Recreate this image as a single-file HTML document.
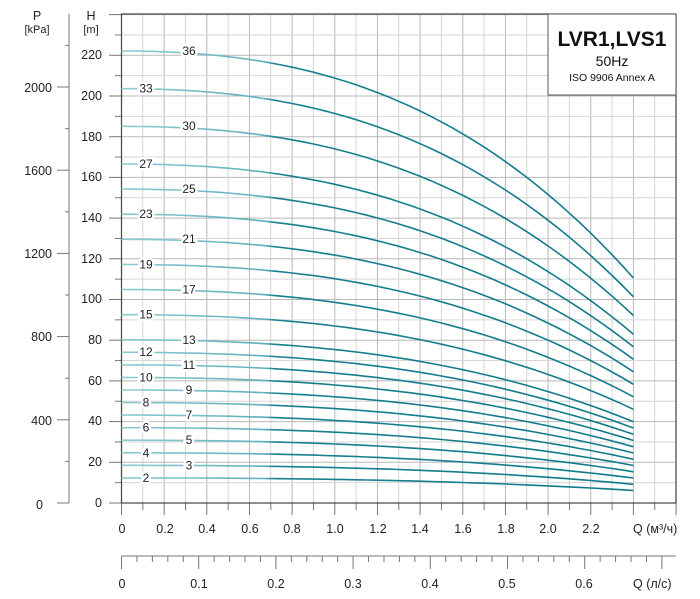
<!DOCTYPE html>
<html><head><meta charset="utf-8"><style>
html,body{margin:0;padding:0;background:#fff}
svg{display:block;font-family:"Liberation Sans",sans-serif}
</style></head><body>
<svg id="s" width="700" height="599" viewBox="0 0 700 599">
<defs><linearGradient id="g" gradientUnits="userSpaceOnUse" x1="121" y1="0" x2="634" y2="0">
<stop offset="0" stop-color="#8fcbd4"/><stop offset="0.28" stop-color="#5fb0bd"/><stop offset="0.3" stop-color="#17808f"/><stop offset="1" stop-color="#0f7a8a"/></linearGradient></defs>
<g id="grid"></g>
<g id="curves"></g>
<rect x="548" y="14" width="128" height="81" fill="#fff" stroke="#555" stroke-width="1"/>
<text x="612" y="46" text-anchor="middle" font-size="21" font-weight="bold" fill="#111">LVR1,LVS1</text>
<text x="612" y="66" text-anchor="middle" font-size="14" fill="#111">50Hz</text>
<text x="612" y="81" text-anchor="middle" font-size="10.5" fill="#111">ISO 9906 Annex A</text>
<g font-size="12.5" fill="#222" text-anchor="middle">
<text x="37" y="20">P</text><text x="37" y="33" font-size="11">[kPa]</text>
<text x="91" y="20">H</text><text x="91" y="33" font-size="11">[m]</text>
</g>
<g font-size="12.5" fill="#222" text-anchor="end">
<text x="102" y="59">220</text><text x="102" y="100">200</text><text x="102" y="141">180</text><text x="102" y="181">160</text><text x="102" y="222">140</text><text x="102" y="263">120</text><text x="102" y="303">100</text><text x="102" y="344">80</text><text x="102" y="385">60</text><text x="102" y="425">40</text><text x="102" y="466">20</text><text x="102" y="507">0</text>
<text x="52" y="92">2000</text><text x="52" y="175">1600</text><text x="52" y="258">1200</text><text x="52" y="341">800</text><text x="52" y="425">400</text><text x="43" y="509">0</text>
</g>
<g font-size="12.5" fill="#222" text-anchor="middle">
<text x="122" y="533">0</text><text x="165" y="533">0.2</text><text x="207" y="533">0.4</text><text x="250" y="533">0.6</text><text x="292" y="533">0.8</text><text x="335" y="533">1.0</text><text x="378" y="533">1.2</text><text x="420" y="533">1.4</text><text x="463" y="533">1.6</text><text x="506" y="533">1.8</text><text x="548" y="533">2.0</text><text x="591" y="533">2.2</text>
<text x="122" y="588">0</text><text x="199" y="588">0.1</text><text x="276" y="588">0.2</text><text x="353" y="588">0.3</text><text x="430" y="588">0.4</text><text x="507" y="588">0.5</text><text x="584" y="588">0.6</text>
</g>
<text x="633" y="533" font-size="12.5" fill="#222">Q (м³/ч)</text>
<text x="633" y="588" font-size="12.5" fill="#222">Q (л/с)</text>
<g class="lb" font-size="12" fill="#222" text-anchor="middle">
<text x="189" y="55">36</text><text x="146" y="92.5">33</text><text x="189" y="130">30</text><text x="146" y="168">27</text><text x="189" y="193">25</text><text x="146" y="218">23</text><text x="189" y="243">21</text><text x="146" y="268.5">19</text><text x="189" y="293.5">17</text><text x="146" y="318.5">15</text><text x="189" y="344">13</text><text x="146" y="356">12</text><text x="189" y="369">11</text><text x="146" y="381.5">10</text><text x="189" y="394">9</text><text x="146" y="406.5">8</text><text x="189" y="419">7</text><text x="146" y="431.5">6</text><text x="189" y="444">5</text><text x="146" y="457">4</text><text x="189" y="469.5">3</text><text x="146" y="482">2</text>
</g>
</svg>
<script>
var ns="http://www.w3.org/2000/svg";
function el(p,t,a){var e=document.createElementNS(ns,t);for(var k in a)e.setAttribute(k,a[k]);p.appendChild(e);return e;}
var G=document.getElementById("grid"),C=document.getElementById("curves");
var x0=121.5,dx=21.33,y0=503,py=2.035;
for(var k=0;k<=26;k++){var x=x0+k*dx;el(G,"line",{x1:x,y1:14,x2:x,y2:503,stroke:k%2?"#d6d6d6":"#b8b8b8","stroke-width":1});
el(G,"line",{x1:x,y1:503,x2:x,y2:k%2?510:515,stroke:"#777"});}
for(var k=0;k<=24;k++){var y=y0-k*10*py;el(G,"line",{x1:121.5,y1:y,x2:676,y2:y,stroke:k%2?"#d6d6d6":"#b8b8b8"});
el(G,"line",{x1:k%2?115:109,y1:y,x2:121.5,y2:y,stroke:"#777"});}
el(G,"rect",{x:121.5,y:14,width:554.5,height:489,fill:"none",stroke:"#444","stroke-width":1.2});
el(G,"line",{x1:69,y1:14,x2:69,y2:503,stroke:"#777"});
for(var k=0;k<=11;k++){var y=503-k*41.6;el(G,"line",{x1:k%2?65:57,y1:y,x2:69,y2:y,stroke:"#777"});}
el(G,"line",{x1:121.5,y1:556,x2:676,y2:556,stroke:"#777"});
for(var k=0;k<=35;k++){var x=121.5+k*15.44;if(x>677)break;el(G,"line",{x1:x,y1:556,x2:x,y2:k%5?562:569,stroke:"#777"});}
var st=[2,3,4,5,6,7,8,9,10,11,12,13,15,17,19,21,23,25,27,30,33,36];
st.forEach(function(n){var d="";for(var i=0;i<=48;i++){var q=i*0.05;var h=n*(6.17-0.25*q*q-0.12*q*q*q);d+=(i?"L":"M")+(x0+q*10*dx).toFixed(1)+","+(y0-h*py).toFixed(1);}
el(C,"path",{d:d,fill:"none",stroke:"url(#g)","stroke-width":1.6});});
</script>
<style>.lb text{paint-order:stroke;stroke:#fff;stroke-width:5px}</style>
</body></html>
